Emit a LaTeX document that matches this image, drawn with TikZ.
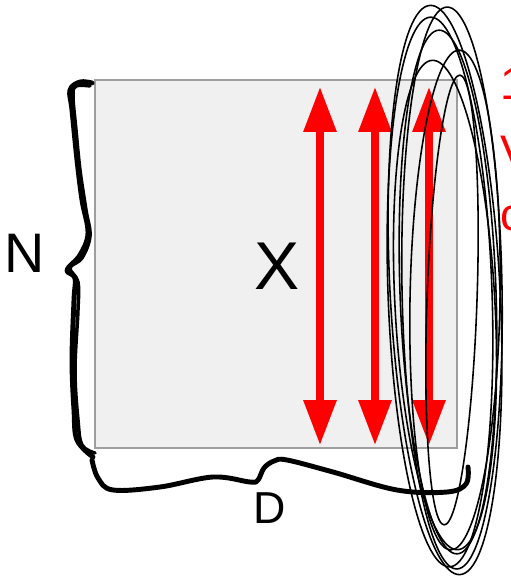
\documentclass[tikz,border=0pt]{standalone}
\usepackage{fontspec}
\setmainfont{Liberation Sans}
\usepackage{tikz}
\usetikzlibrary{arrows.meta}

\begin{document}
\begin{tikzpicture}[
  x=0.02cm, y=-0.02cm,
  datablock/.style={draw=black!38, fill=black!6, line width=1.1pt, minimum width=7.24cm, minimum height=7.36cm, inner sep=0},
  dimtext/.style={anchor=base, inner sep=0, text=black},
  vec/.style={{Triangle[length=25.5pt, width=18pt]}-{Triangle[length=25.5pt, width=18pt]}, line width=4pt, red},
  brace/.style={line width=2.8pt, line cap=round, line join=round},
  scribble/.style={line width=0.9pt},
  note/.style={anchor=base west, inner sep=0, text=red, font=\fontsize{26}{30}\selectfont}
]
\useasboundingbox (0,0) rectangle (511,576);

\node[datablock] (data) at (276,264) {};
\node[dimtext, font=\fontsize{38.5}{44}\selectfont] (mat) at (277,289) {X};

\coordinate (topa) at (320,87);  \coordinate (bota) at (320,445);
\coordinate (topb) at (375,87);  \coordinate (botb) at (375,445);
\coordinate (topc) at (429,87);  \coordinate (botc) at (429,445);
\draw[vec] (topa) -- (bota);
\draw[vec] (topb) -- (botb);
\draw[vec] (topc) -- (botc);

% hand drawn braces
\draw[brace] plot[smooth, tension=0.6] coordinates {(92,83) (80,82) (70,90) (72,110) (77,160) (82,200) (88,233) (80,255) (67,270) (75,278) (74,300) (72,360) (74,410) (77,440) (93,457)};
\draw[brace, line width=2pt] plot[smooth, tension=0.6] coordinates {(90,86) (76,86) (73,96) (76,130) (80,170) (86,210) (90,236) (82,258) (70,268) (78,282) (78,310) (75,370) (78,420) (82,445) (95,453)};
\draw[brace] plot[smooth, tension=0.6] coordinates {(92,460) (98,478) (113,490) (160,487) (213,477) (250,482) (258,480) (264,468) (274,461) (287,460) (333,472) (397,490) (447,492) (466,484) (468,467)};
\node[dimtext, font=\fontsize{31.7}{36}\selectfont] (rows) at (25,272) {N};
\node[dimtext, font=\fontsize{25.5}{30}\selectfont] (cols) at (270,523) {D};

% loops round the last column
\draw[scribble, rotate around={3:(445,290)}] (445,290) ellipse [x radius=55, y radius=285];
\draw[scribble, rotate around={1:(452,288)}] (452,288) ellipse [x radius=50, y radius=281];
\draw[scribble, rotate around={2:(440,292)}] (440,292) ellipse [x radius=52, y radius=275];
\draw[scribble, rotate around={-1:(455,300)}] (455,300) ellipse [x radius=45, y radius=250];
\draw[scribble, rotate around={3:(445,305)}] (445,305) ellipse [x radius=50, y radius=245];
\draw[scribble, rotate around={2:(448,292)}] (448,292) ellipse [x radius=48, y radius=262];
\draw[scribble, rotate around={-2:(452,300)}] (452,300) ellipse [x radius=25, y radius=225];

\node[note] (note1) at (500,99) {1};
\node[note] (note2) at (500,167) {V};
\node[note] (note3) at (500,230) {c};
\end{tikzpicture}
\end{document}
